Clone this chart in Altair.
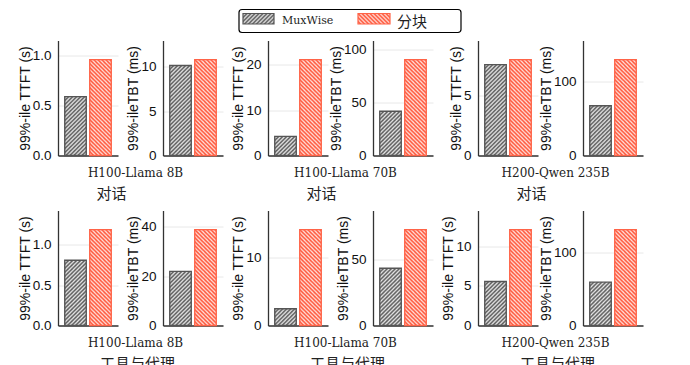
from urllib.parse import quote
import altair as alt
import pandas as pd

# ---------------- data ----------------
SERIES = ["MuxWise", "分块"]
MODELS = ["H100-Llama 8B", "H100-Llama 70B", "H200-Qwen 235B"]
SCENARIOS = ["对话", "工具与代理"]
METRICS = ["99%-ile TTFT (s)", "99%-ileTBT (ms)"]

# 对话 (chat)
TTFT_MUX_CHAT = [0.59, 4.2, 7.56]
TTFT_CHUNK_CHAT = [0.96, 21.1, 7.97]
TBT_MUX_CHAT = [10.15, 41.5, 67.0]
TBT_CHUNK_CHAT = [10.8, 90.0, 129.0]
# 工具与代理 (tools & agents)
TTFT_MUX_TOOL = [0.81, 2.44, 5.55]
TTFT_CHUNK_TOOL = [1.19, 14.0, 12.07]
TBT_MUX_TOOL = [21.9, 43.6, 59.6]
TBT_CHUNK_TOOL = [38.8, 72.9, 131.6]

# y tick values per panel (TTFT, TBT for each model)
TICKS_CHAT = [[0, 0.5, 1.0], [0, 5, 10], [0, 10, 20], [0, 50, 100], [0, 5], [0, 100]]
TICKS_TOOL = [[0, 0.5, 1.0], [0, 20, 40], [0, 10], [0, 50], [0, 5, 10], [0, 100]]

# ---------------- style / layout ----------------
W, H = 60, 115
PAD_IN, PAD_OUT = 0.14, 0.27
HEADROOM = 1.2

GRAY_STROKE, GRAY_STRIPE = "#555555", "#5a5a5a"
RED_STROKE, RED_STRIPE = "#ff6347", "#ff5538"
COLORS = [GRAY_STROKE, RED_STROKE]
SANS = "Liberation Sans"
SERIF = "DejaVu Serif"
CJK = "Noto Sans CJK SC"


def hatch_url(color, direction, d=4, sw=1.75):
    """SVG image (no intrinsic size) filled with a 45-degree hatch pattern."""
    if direction == "/":
        path = f"M0,{d} L{d},0 M-1,1 L1,-1 M{d-1},{d+1} L{d+1},{d-1}"
    else:
        path = f"M0,0 L{d},{d} M-1,{d-1} L1,{d+1} M{d-1},-1 L{d+1},1"
    svg = (
        '<svg xmlns="http://www.w3.org/2000/svg">'
        f'<defs><pattern id="h" width="{d}" height="{d}" patternUnits="userSpaceOnUse">'
        f'<path d="{path}" stroke="{color}" stroke-width="{sw}" fill="none"/></pattern></defs>'
        '<rect width="100%" height="100%" fill="white"/>'
        '<rect width="100%" height="100%" fill="url(#h)"/></svg>'
    )
    return "data:image/svg+xml;charset=utf-8," + quote(svg)


URL_GRAY = hatch_url(GRAY_STRIPE, "/", sw=1.65)
URL_RED = hatch_url(RED_STRIPE, "\\", sw=1.8)


def legend_layers():
    one = pd.DataFrame({"k": [0]})
    box = alt.Chart(one).mark_rect(
        fill="white", stroke="black", strokeWidth=1.2, cornerRadius=3
    ).encode(x=alt.value(-29), x2=alt.value(193), y=alt.value(-31), y2=alt.value(-8))
    img1 = alt.Chart(one).mark_image(aspect=False).encode(
        x=alt.value(-25), x2=alt.value(6), y=alt.value(-27), y2=alt.value(-16.5),
        url=alt.value(URL_GRAY))
    sw1 = alt.Chart(one).mark_rect(
        fillOpacity=0, stroke=GRAY_STROKE, strokeWidth=1.2
    ).encode(x=alt.value(-25), x2=alt.value(6), y=alt.value(-27), y2=alt.value(-16.5))
    t1 = alt.Chart(one).mark_text(
        align="left", baseline="middle", font=SERIF, fontSize=11, color="#222"
    ).encode(x=alt.value(14), y=alt.value(-19.5), text=alt.value(SERIES[0]))
    img2 = alt.Chart(one).mark_image(aspect=False).encode(
        x=alt.value(90), x2=alt.value(122), y=alt.value(-27), y2=alt.value(-16.5),
        url=alt.value(URL_RED))
    sw2 = alt.Chart(one).mark_rect(
        fillOpacity=0, stroke=RED_STROKE, strokeWidth=1.2
    ).encode(x=alt.value(90), x2=alt.value(122), y=alt.value(-27), y2=alt.value(-16.5))
    t2 = alt.Chart(one).mark_text(
        align="left", baseline="middle", font=CJK, fontSize=15, color="#222"
    ).encode(x=alt.value(129), y=alt.value(-18.5), text=alt.value(SERIES[1]))
    return [box, img1, sw1, t1, img2, sw2, t2]


def panel(mux, chunk, ticks, ytitle, xtitle, xt_x, xt_y, xt_font, xt_size, legend=False):
    df = pd.DataFrame({"series": SERIES, "value": [mux, chunk]})
    ymax = HEADROOM * max(mux, chunk)
    fmt = ".1f" if any(float(t) != int(t) for t in ticks) else "d"
    xaxis = alt.Axis(
        labels=False, ticks=False, grid=False, title=xtitle,
        titleX=xt_x, titleY=xt_y, titleAlign="center", titleBaseline="middle",
        titleFont=xt_font, titleFontSize=xt_size, titleFontWeight="normal",
        titleColor="#222",
    )
    yaxis = alt.Axis(
        values=ticks, format=fmt, ticks=False, grid=True, title=ytitle,
        labelFont=SANS, labelFontSize=13.5, labelPadding=7, labelColor="#111",
        titleFont=SANS, titleFontSize=14, titleFontWeight="normal", titlePadding=0,
        titleColor="#111",
    )
    base = alt.Chart(df).encode(
        x=alt.X("series:N", sort=SERIES,
                scale=alt.Scale(domain=SERIES, paddingInner=PAD_IN, paddingOuter=PAD_OUT),
                axis=xaxis),
        y=alt.Y("value:Q", scale=alt.Scale(domain=[0, ymax], nice=False, zero=True), axis=yaxis),
    )
    fill1 = base.transform_filter(alt.datum.series == SERIES[0]).mark_image(aspect=False).encode(
        url=alt.value(URL_GRAY))
    fill2 = base.transform_filter(alt.datum.series == SERIES[1]).mark_image(aspect=False).encode(
        url=alt.value(URL_RED))
    outline = base.mark_bar(fillOpacity=0, strokeWidth=1.4).encode(
        stroke=alt.Stroke("series:N", scale=alt.Scale(domain=SERIES, range=COLORS), legend=None)
    )
    layers = [fill1, fill2, outline]
    if legend:
        layers += legend_layers()
    return alt.layer(*layers).properties(width=W, height=H)


rows = [
    (TTFT_MUX_CHAT, TTFT_CHUNK_CHAT, TBT_MUX_CHAT, TBT_CHUNK_CHAT, TICKS_CHAT, SCENARIOS[0], -52),
    (TTFT_MUX_TOOL, TTFT_CHUNK_TOOL, TBT_MUX_TOOL, TBT_CHUNK_TOOL, TICKS_TOOL, SCENARIOS[1], -26),
]

panels = []
for r, (tm, tc, bm, bc, ticks, scen, scen_x) in enumerate(rows):
    for i, model in enumerate(MODELS):
        panels.append(panel(tm[i], tc[i], ticks[2 * i], METRICS[0], model, 77, 16.5, SERIF, 12,
                            legend=(r == 0 and i == 1)))
        panels.append(panel(bm[i], bc[i], ticks[2 * i + 1], METRICS[1], scen, scen_x, 37.5, CJK, 15))

chart = alt.concat(
    *panels, columns=6, spacing={"row": 55, "column": 45}, bounds="flush"
).properties(
    padding={"left": 10, "top": 0.5, "right": 5, "bottom": 5}
).configure_view(
    stroke=None
).configure_axis(
    domainColor="#333", domainWidth=1.3, gridColor="#e8e8e8", gridWidth=1
)

chart.save("out.html", embed_options={"renderer": "svg", "actions": False})
